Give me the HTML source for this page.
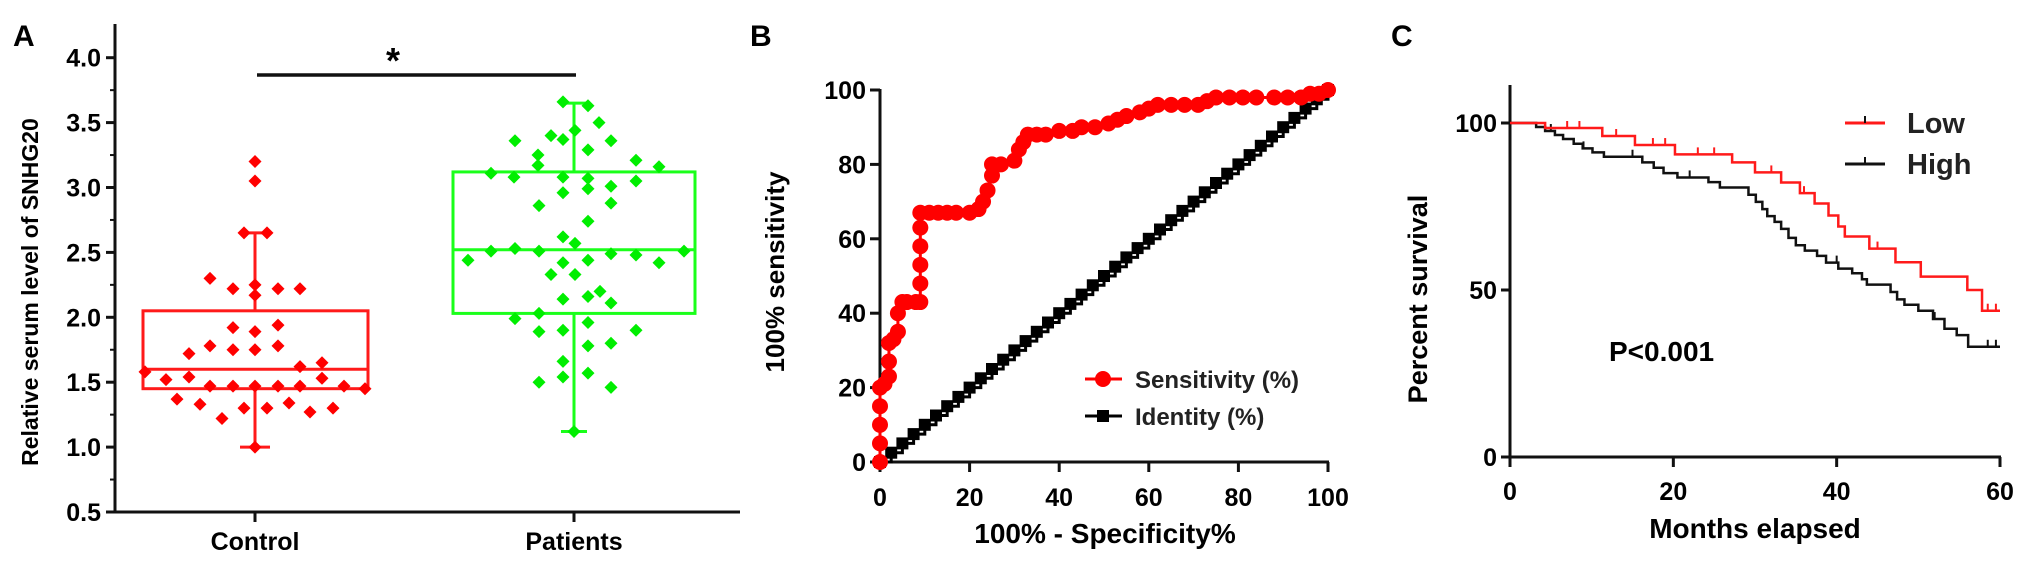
<!DOCTYPE html>
<html><head><meta charset="utf-8"><style>
html,body{margin:0;padding:0;background:#fff;}
svg{display:block;font-family:"Liberation Sans",Arial,sans-serif;}
</style></head><body>
<svg id="fig" width="2031" height="566" viewBox="0 0 2031 566">
<g id="pA"></g>
<g id="pB"></g>
<g id="pC"></g>
</svg>
<script>
// ---------- Panel A data ----------
const groupNames = ["Control", "Patients"];
const controlValues = [3.2,3.05,2.65,2.65,2.3,2.22,2.22,2.22,2.25,2.17,1.92,1.89,1.94,1.72,1.78,1.75,1.75,1.78,1.58,1.52,1.54,1.62,1.65,1.53,1.47,1.47,1.47,1.47,1.47,1.47,1.45,1.37,1.33,1.22,1.3,1.3,1.34,1.27,1.3,1.0];
const controlJitter = [0,0,-0.11,0.12,-0.45,-0.22,0.23,0.45,0,0,-0.22,0,0.23,-0.66,-0.45,-0.22,0,0.23,-1.1,-0.89,-0.66,0.45,0.67,0.67,-0.45,-0.22,0,0.23,0.45,0.89,1.1,-0.78,-0.55,-0.33,-0.11,0.12,0.34,0.55,0.78,0];
const patientValues = [3.66,3.63,3.5,3.44,3.36,3.4,3.37,3.36,3.29,3.25,3.17,3.21,3.16,3.11,3.08,3.08,3.07,2.99,3.01,3.05,2.96,2.88,2.86,2.74,2.62,2.57,2.44,2.51,2.53,2.51,2.42,2.44,2.49,2.48,2.42,2.51,2.33,2.33,2.14,2.16,2.2,2.11,1.99,2.03,1.89,1.9,1.96,1.9,1.8,1.78,1.66,1.54,1.57,1.5,1.46,1.12];
const patientJitter = [-0.11,0.14,0.25,0.01,-0.59,-0.23,-0.11,0.37,0.14,-0.36,-0.36,0.62,0.85,-0.83,-0.6,-0.11,0.14,0.14,0.37,0.62,-0.11,0.37,-0.35,0.14,-0.11,0.01,-1.06,-0.83,-0.59,-0.35,-0.11,0.14,0.37,0.62,0.85,1.1,-0.23,0.01,-0.11,0.14,0.26,0.37,-0.59,-0.35,-0.35,-0.11,0.14,0.62,0.37,0.14,-0.11,-0.11,0.14,-0.35,0.37,0];
const controlBox = {min:1.0, q1:1.45, med:1.6, q3:2.05, max:2.65};
const patientBox = {min:1.12, q1:2.03, med:2.52, q3:3.12, max:3.65};
const aTicks = [0.5,1.0,1.5,2.0,2.5,3.0,3.5,4.0];
const aTickLabels = ["0.5","1.0","1.5","2.0","2.5","3.0","3.5","4.0"];

// ---------- Panel B data ----------
const rocFpr = [0,0,0,0,0,1,2,2,2,3,4,4,5,6,8,9,9,9,9,9,9,11,13,15,17,20,22,23,24,25,25,27,30,31,32,33,35,37,40,43,45,48,51,53,55,58,60,62,65,68,71,73,75,78,81,84,88,91,94,96,98,100];
const rocSens = [0,5,10,15,20,21,23,27,32,33,35,40,43,43,43,43,48,53,58,63,67,67,67,67,67,67,68,70,73,77,80,80,81,84,86,88,88,88,89,89,90,90,91,92,93,94,95,96,96,96,96,97,98,98,98,98,98,98,98,99,99,100];
const identityVals = [0,2.5,5,7.5,10,12.5,15,17.5,20,22.5,25,27.5,30,32.5,35,37.5,40,42.5,45,47.5,50,52.5,55,57.5,60,62.5,65,67.5,70,72.5,75,77.5,80,82.5,85,87.5,90,92.5,95,97.5,100];
const bTicks = [0,20,40,60,80,100];

// ---------- Panel C data ----------
const lowTimes = [4.3,11.3,15.3,20.2,27.2,30,33.2,35.5,37.3,39,40.2,41,44,47.2,50.3,56,57.8];
const lowSurv = [98.5,96.1,93.4,90.6,88.2,85.2,82.2,79,75.9,72.3,69,66,62.4,58.3,54,50,43.8];
const lowCensor = [7,8.5,13,17.5,19,23,25,32,36,41,45,56,58.5,59.5];
const highTimes = [3.2,4.3,5.5,6.5,7.8,8.9,10.1,11.5,16.2,17.6,18.8,20.5,24.3,25.7,29.2,30.1,30.9,31.5,32.4,33.2,34.1,35,36.1,37.6,38.7,40.2,41.9,43.1,43.7,46.6,47.4,48.3,50,51.8,53.2,54.7,56.1];
const highSurv = [98.8,97.6,96.4,95.2,93.8,92.4,91.2,89.9,88.2,86.6,85,83.7,82.3,80.7,78.5,76.4,74.2,72.1,70.4,68.3,65.6,63.4,61.8,60.2,58.2,56.4,55,53.2,51.6,49.4,47.2,45.6,43.8,41.3,38.4,36.5,33];
const highCensor = [5,9,15,22,40,52,58.5,59.5];
const cXTicks = [0,20,40,60];
const cYTicks = [0,50,100];

const NS = "http://www.w3.org/2000/svg";
function mk(parent, tag, attrs, text){
  const e = document.createElementNS(NS, tag);
  for (const k in attrs) e.setAttribute(k, attrs[k]);
  if (text !== undefined) e.textContent = text;
  parent.appendChild(e);
  return e;
}

// ===== Panel A =====
(function(){
  const g = document.getElementById('pA');
  const yA = v => 512 - (v - 0.5) * 129.8;
  const xA = i => [255, 574][i];
  let e;
  e = mk(g,'text',{x:13,y:46,'font-size':30,'font-weight':'bold'},'A');
   
  e = mk(g,'line',{x1:115,y1:24,x2:115,y2:513,stroke:'#111','stroke-width':3});
   
  e = mk(g,'line',{x1:114,y1:512,x2:740,y2:512,stroke:'#111','stroke-width':3});
   
  aTicks.forEach((t,i)=>{
    e = mk(g,'line',{x1:106,y1:yA(t),x2:115,y2:yA(t),stroke:'#111','stroke-width':3});
     
    if (i < aTicks.length-1){
      e = mk(g,'line',{x1:110,y1:yA(t+0.25),x2:115,y2:yA(t+0.25),stroke:'#111','stroke-width':2});
       
    }
    e = mk(g,'text',{x:101,y:yA(t)+9,'font-size':25,'font-weight':'bold','text-anchor':'end'},aTickLabels[i]);
     
  });
  e = mk(g,'text',{transform:'translate(38,292) rotate(-90)','font-size':23,'font-weight':'bold','text-anchor':'middle'},'Relative serum level of SNHG20');
   
  groupNames.forEach((n,i)=>{
    e = mk(g,'line',{x1:xA(i),y1:512,x2:xA(i),y2:522,stroke:'#111','stroke-width':3});
     
    e = mk(g,'text',{x:xA(i),y:550,'font-size':25,'font-weight':'bold','text-anchor':'middle'},n);
     
  });
  e = mk(g,'line',{x1:257,y1:75,x2:576,y2:75,stroke:'#111','stroke-width':3.5});
   
  e = mk(g,'text',{x:393,y:73,'font-size':36,'font-weight':'bold','text-anchor':'middle'},'*');
   

  function box(i, b, color, left, right, capw, name){
    const cx = xA(i);
    const bg = mk(g,'g',{});
    
    
    mk(bg,'line',{x1:cx,y1:yA(b.max),x2:cx,y2:yA(b.q3),stroke:color,'stroke-width':3});
    mk(bg,'line',{x1:cx,y1:yA(b.q1),x2:cx,y2:yA(b.min),stroke:color,'stroke-width':3});
    mk(bg,'line',{x1:cx-capw,y1:yA(b.max),x2:cx+capw,y2:yA(b.max),stroke:color,'stroke-width':3});
    mk(bg,'line',{x1:cx-capw,y1:yA(b.min),x2:cx+capw,y2:yA(b.min),stroke:color,'stroke-width':3});
    mk(bg,'rect',{x:left,y:yA(b.q3),width:right-left,height:yA(b.q1)-yA(b.q3),fill:'none',stroke:color,'stroke-width':3});
    mk(bg,'line',{x1:left,y1:yA(b.med),x2:right,y2:yA(b.med),stroke:color,'stroke-width':3});
  }
  box(0, controlBox, '#ff1a1a', 143, 368, 15, 'control-box');
  box(1, patientBox, '#1aff1a', 453, 695, 13, 'patients-box');
  function pts(vals, jit, i, color, name){
    vals.forEach((v,k)=>{
      const x = xA(i) + jit[k]*100, y = yA(v), r = 6.5;
      const p = mk(g,'polygon',{points:`${x},${y-r} ${x+r},${y} ${x},${y+r} ${x-r},${y}`,fill:color});
      
      
    });
  }
  pts(controlValues, controlJitter, 0, '#ff0000', 'control-point');
  pts(patientValues, patientJitter, 1, '#00ee00', 'patient-point');
})();

// ===== Panel B =====
(function(){
  const g = document.getElementById('pB');
  const xB = v => 880 + v * 4.48;
  const yB = v => 462 - v * 3.72;
  let e;
  e = mk(g,'text',{x:750,y:46,'font-size':30,'font-weight':'bold'},'B');
   
  e = mk(g,'line',{x1:880,y1:89,x2:880,y2:463,stroke:'#111','stroke-width':3});
   
  e = mk(g,'line',{x1:879,y1:462,x2:1329,y2:462,stroke:'#111','stroke-width':3});
   
  bTicks.forEach(t=>{
    e = mk(g,'line',{x1:870,y1:yB(t),x2:880,y2:yB(t),stroke:'#111','stroke-width':3});
     
    e = mk(g,'text',{x:866,y:yB(t)+9,'font-size':25,'font-weight':'bold','text-anchor':'end'},String(t));
     
    e = mk(g,'line',{x1:xB(t),y1:462,x2:xB(t),y2:472,stroke:'#111','stroke-width':3});
     
    e = mk(g,'text',{x:xB(t),y:506,'font-size':25,'font-weight':'bold','text-anchor':'middle'},String(t));
     
  });
  e = mk(g,'text',{transform:'translate(784,272) rotate(-90)','font-size':26,'font-weight':'bold','text-anchor':'middle'},'100% sensitivity');
   
  e = mk(g,'text',{x:1105,y:543,'font-size':28,'font-weight':'bold','text-anchor':'middle'},'100% - Specificity%');
   
  let d = '';
  identityVals.forEach((v,i)=>{
    if (i===0) d += `M${xB(v)},${yB(v)}`;
    else { d += ` L${xB(v)},${yB(identityVals[i-1])} L${xB(v)},${yB(v)}`; }
  });
  e = mk(g,'path',{d:d,fill:'none',stroke:'#000','stroke-width':3});
   
  identityVals.forEach((v,i)=>{
    e = mk(g,'rect',{x:xB(v)-6,y:yB(v)-6,width:12,height:12,fill:'#000'});
     
  });
  let d2 = '';
  rocFpr.forEach((f,i)=>{ d2 += (i?' L':'M') + xB(f) + ',' + yB(rocSens[i]); });
  e = mk(g,'path',{d:d2,fill:'none',stroke:'#ff0000','stroke-width':3});
   
  rocFpr.forEach((f,i)=>{
    e = mk(g,'circle',{cx:xB(f),cy:yB(rocSens[i]),r:8,fill:'#ff0000'});
     
  });
  const lg = mk(g,'g',{});
   
  e = mk(lg,'line',{x1:1085,y1:379,x2:1122,y2:379,stroke:'#ff0000','stroke-width':3});
   
  mk(lg,'circle',{cx:1103,cy:379,r:8,fill:'#ff0000'});
  e = mk(lg,'text',{x:1135,y:388,'font-size':24,'font-weight':'bold',fill:'#222'},'Sensitivity (%)');
   
  e = mk(lg,'line',{x1:1085,y1:416,x2:1122,y2:416,stroke:'#000','stroke-width':3});
   
  mk(lg,'rect',{x:1097,y:410,width:12,height:12,fill:'#000'});
  e = mk(lg,'text',{x:1135,y:425,'font-size':24,'font-weight':'bold',fill:'#222'},'Identity (%)');
   
})();

// ===== Panel C =====
(function(){
  const g = document.getElementById('pC');
  const xC = m => 1510 + m * (490/60);
  const yC = s => 457 - s * 3.34;
  let e;
  e = mk(g,'text',{x:1391,y:46,'font-size':30,'font-weight':'bold'},'C');
   
  e = mk(g,'line',{x1:1510,y1:85,x2:1510,y2:458,stroke:'#111','stroke-width':3});
   
  e = mk(g,'line',{x1:1509,y1:457,x2:2001,y2:457,stroke:'#111','stroke-width':3});
   
  cYTicks.forEach(t=>{
    e = mk(g,'line',{x1:1501,y1:yC(t),x2:1510,y2:yC(t),stroke:'#111','stroke-width':3});
     
    e = mk(g,'text',{x:1497,y:yC(t)+9,'font-size':25,'font-weight':'bold','text-anchor':'end'},String(t));
     
  });
  cXTicks.forEach(t=>{
    e = mk(g,'line',{x1:xC(t),y1:457,x2:xC(t),y2:467,stroke:'#111','stroke-width':3});
     
    e = mk(g,'text',{x:xC(t),y:500,'font-size':25,'font-weight':'bold','text-anchor':'middle'},String(t));
     
  });
  e = mk(g,'text',{transform:'translate(1427,299) rotate(-90)','font-size':27,'font-weight':'bold','text-anchor':'middle'},'Percent survival');
   
  e = mk(g,'text',{x:1755,y:538,'font-size':28,'font-weight':'bold','text-anchor':'middle'},'Months elapsed');
   
  e = mk(g,'text',{x:1609,y:361,'font-size':28,'font-weight':'bold'},'P<0.001');
   
  function km(times, surv, censor, color, name){
    let d = `M${xC(0)},${yC(100)}`;
    let prev = 100;
    times.forEach((t,i)=>{ d += ` L${xC(t)},${yC(prev)} L${xC(t)},${yC(surv[i])}`; prev = surv[i]; });
    d += ` L${xC(60)},${yC(prev)}`;
    const p = mk(g,'path',{d:d,fill:'none',stroke:color,'stroke-width':2.5});
    
    
    censor.forEach(c=>{
      let s = 100;
      times.forEach((t,i)=>{ if (t <= c) s = surv[i]; });
      const m = mk(g,'line',{x1:xC(c),y1:yC(s),x2:xC(c),y2:yC(s)-7,stroke:color,'stroke-width':2});
      
      
    });
  }
  km(highTimes, highSurv, highCensor, '#111', 'high-curve');
  km(lowTimes, lowSurv, lowCensor, '#ff1a1a', 'low-curve');
  const lg = mk(g,'g',{});
   
  e = mk(lg,'line',{x1:1845,y1:123,x2:1885,y2:123,stroke:'#ff1a1a','stroke-width':3});
   
  mk(lg,'line',{x1:1865,y1:123,x2:1865,y2:116,stroke:'#111','stroke-width':2});
  e = mk(lg,'text',{x:1907,y:133,'font-size':29,'font-weight':'bold',fill:'#222'},'Low');
   
  e = mk(lg,'line',{x1:1845,y1:164,x2:1885,y2:164,stroke:'#111','stroke-width':3});
   
  mk(lg,'line',{x1:1865,y1:164,x2:1865,y2:157,stroke:'#111','stroke-width':2});
  e = mk(lg,'text',{x:1907,y:174,'font-size':29,'font-weight':'bold',fill:'#222'},'High');
   
})();
</script>
</body></html>
